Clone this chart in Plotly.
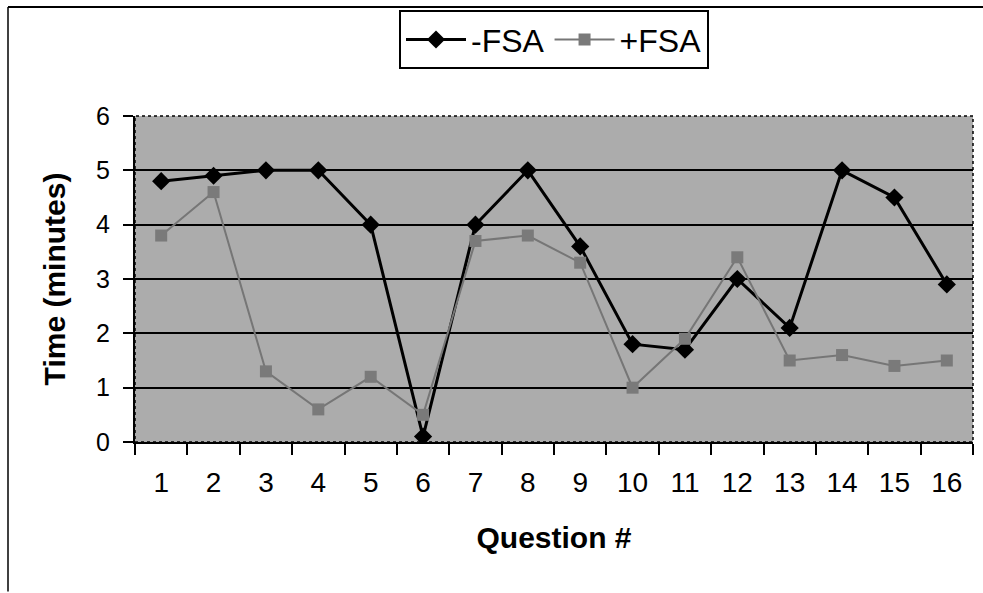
import plotly.graph_objects as go

questions = [str(i) for i in range(1, 17)]
minus_fsa = [4.8, 4.9, 5.0, 5.0, 4.0, 0.1, 4.0, 5.0, 3.6, 1.8, 1.7, 3.0, 2.1, 5.0, 4.5, 2.9]
plus_fsa = [3.8, 4.6, 1.3, 0.6, 1.2, 0.5, 3.7, 3.8, 3.3, 1.0, 1.9, 3.4, 1.5, 1.6, 1.4, 1.5]
y_ticks = [0, 1, 2, 3, 4, 5, 6]

FONT = "Liberation Sans, Arial, sans-serif"

fig = go.Figure()
fig.add_trace(go.Scatter(
    x=questions, y=minus_fsa, name="-FSA", mode="lines+markers",
    line=dict(color="black", width=3),
    marker=dict(symbol="diamond", size=14, color="black"),
))
fig.add_trace(go.Scatter(
    x=questions, y=plus_fsa, name="+FSA", mode="lines+markers",
    line=dict(color="#767676", width=2),
    marker=dict(symbol="square", size=12, color="#7a7a7a"),
))

W, H = 983, 593
L, R, T, B = 135, 10, 113, 151
pw, ph = W - L - R, H - T - B

def px(x):
    return (x - L) / pw

def py(y):
    return (H - B - y) / ph

fig.update_layout(
    width=W, height=H,
    margin=dict(l=L, r=R, t=T, b=B),
    paper_bgcolor="white",
    plot_bgcolor="#acacac",
    font=dict(family=FONT, color="black", size=25),
    showlegend=True,
    legend=dict(
        orientation="h", x=px(554), xanchor="center", y=py(36), yanchor="middle",
        bordercolor="black", borderwidth=2, bgcolor="white",
        font=dict(size=32, family=FONT), itemwidth=60, tracegroupgap=0,
    ),
    xaxis=dict(
        type="category", tickson="boundaries", showgrid=False,
        ticks="outside", ticklen=11, tickwidth=2, tickcolor="black",
        showline=True, linecolor="black", linewidth=2,
        tickfont=dict(size=28), ticklabelstandoff=14,
        title=dict(text="<b>Question #</b>", font=dict(size=30), standoff=30),
        range=[-0.5, 15.5],
    ),
    yaxis=dict(
        range=[0, 6], tickvals=y_ticks, showgrid=True, gridcolor="black", gridwidth=1.5,
        ticks="outside", ticklen=10, tickwidth=2, tickcolor="black",
        showline=True, linecolor="black", linewidth=2, zeroline=False,
        tickfont=dict(size=25), ticklabelstandoff=8,
        title=dict(text="<b>Time (minutes)</b>", font=dict(size=30), standoff=22),
    ),
    shapes=[
        dict(type="line", xref="paper", yref="paper", x0=px(8), x1=px(983), y0=py(3), y1=py(3),
             line=dict(color="black", width=2)),
        dict(type="line", xref="paper", yref="paper", x0=px(8), x1=px(8), y0=py(3), y1=py(593),
             line=dict(color="black", width=1.5)),
        dict(type="rect", xref="paper", yref="paper", x0=0, x1=1, y0=0, y1=1,
             line=dict(color="black", width=1.5, dash="dot")),
    ],
)

fig.write_html(
    "out.html",
    config={"displayModeBar": False},
    post_script="document.body.style.margin='0';document.body.style.overflow='hidden';",
)
